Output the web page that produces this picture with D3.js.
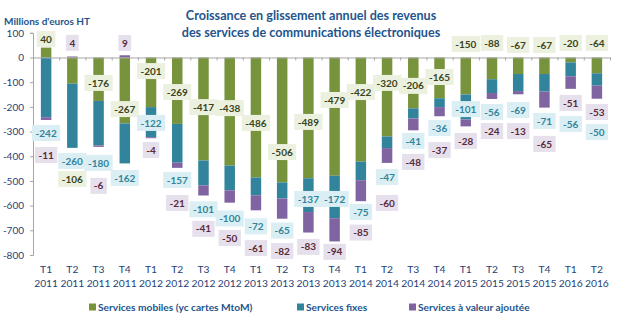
<!DOCTYPE html>
<html>
<head>
<meta charset="utf-8">
<script src="https://cdn.jsdelivr.net/npm/d3@7"></script>
<style>
  body { margin: 0; background: #fff; }
  svg { display: block; font-family: Lato, "Open Sans", sans-serif; }
</style>
</head>
<body>
<div id="chart"></div>
<script>
// Quarter / year pairs along the x axis
const quarters = ["T1", "T2", "T3", "T4", "T1", "T2", "T3", "T4", "T1", "T2", "T3",
  "T4", "T1", "T2", "T3", "T4", "T1", "T2", "T3", "T4", "T1", "T2"];
const years = ["2011", "2011", "2011", "2011", "2012", "2012", "2012", "2012", "2013", "2013", "2013",
  "2013", "2014", "2014", "2014", "2014", "2015", "2015", "2015", "2015", "2016", "2016"];

// Year-on-year change, millions of euros excl. VAT
const mobile = [40, -106, -176, -267, -201, -269, -417, -438, -486, -506, -489,
  -479, -422, -320, -206, -165, -150, -88, -67, -67, -20, -64];
const fixes = [-242, -260, -180, -162, -122, -157, -101, -100, -72, -65, -137,
  -172, -75, -47, -41, -36, -101, -56, -69, -71, -56, -50];
const valeurAjoutee = [-11, 4, -6, 9, -4, -21, -41, -50, -61, -82, -83,
  -94, -85, -60, -48, -37, -28, -24, -13, -65, -51, -53];

const yTicks = [-800, -700, -600, -500, -400, -300, -200, -100, 0, 100];

// Hand-placed label boxes, as a level on the value axis
const mobileLabelAt = [75, -492, -103, -209, -55, -140, -201, -205, -265, -383, -261,
  -172, -140, -103, -115, -79, 55, 59, 51, 51, 59, 59];
const fixesLabelAt = [-306, -419, -427, -488, -265, -496, -615, -652, -684, -701, -573,
  -573, -626, -484, -338, -286, -209, -221, -213, -257, -269, -302];
const vaLabelAt = [-395, 59, -520, 59, -375, -589, -694, -731, -772, -784, -767,
  -787, -709, -589, -423, -375, -338, -298, -298, -350, -184, -221];

const series = [
  { key: "mobile", name: "Services mobiles (yc cartes MtoM)", values: mobile, labelAt: mobileLabelAt,
    fill: "#77933c", boxFill: "#ebf1de", textFill: "#3a4420", legendX: 89 },
  { key: "fixes", name: "Services fixes", values: fixes, labelAt: fixesLabelAt,
    fill: "#31849b", boxFill: "#daeef3", textFill: "#31849b", legendX: 297 },
  { key: "va", name: "Services à valeur ajoutée", values: valeurAjoutee, labelAt: vaLabelAt,
    fill: "#8064a2", boxFill: "#e5e0ec", textFill: "#5a2a3a", legendX: 409 }
];

const width = 621, height = 323;
const plot = { left: 33, right: 610, top: 32.8, bottom: 255 };
const navy = "#1f3f77";
const titleBlue = "#24558c";
const axisGrey = "#a6a6a6";

const rows = quarters.map((q, i) => {
  const r = { i };
  series.forEach(s => { r[s.key] = s.values[i]; });
  return r;
});

const stacked = d3.stack()
  .keys(series.map(s => s.key))
  .offset(d3.stackOffsetDiverging)(rows);

const x = d3.scaleBand()
  .domain(d3.range(quarters.length))
  .range([plot.left, plot.right])
  .paddingInner(0.6)
  .paddingOuter(0.3);

const xEdge = d3.scaleLinear()
  .domain([0, quarters.length])
  .range([plot.left, plot.right]);

const y = d3.scaleLinear()
  .domain([-800, 100])
  .range([plot.bottom, plot.top]);

const svg = d3.select("#chart")
  .append("svg")
  .attr("width", width)
  .attr("height", height);

// Title
svg.append("text")
  .attr("x", 311)
  .attr("y", 19.5)
  .attr("text-anchor", "middle")
  .attr("font-size", "12.6px")
  .attr("font-weight", "bold")
  .attr("fill", titleBlue)
  .selectAll("tspan")
  .data(["Croissance en glissement annuel des revenus",
    "des services de communications électroniques"])
  .join("tspan")
  .attr("x", 311)
  .attr("dy", (d, i) => (i === 0 ? 0 : 17))
  .text(d => d);

svg.append("text")
  .attr("x", 4)
  .attr("y", 25)
  .attr("font-size", "10px")
  .attr("font-weight", "bold")
  .attr("fill", titleBlue)
  .text("Millions d'euros HT");

// Y axis
const yAxis = svg.append("g")
  .attr("transform", `translate(${plot.left},0)`)
  .call(d3.axisLeft(y).tickValues(yTicks).tickSize(3).tickPadding(6).tickFormat(d => String(d)));
yAxis.select(".domain").attr("stroke", axisGrey);
yAxis.selectAll(".tick line").attr("stroke", axisGrey);
yAxis.selectAll(".tick text")
  .attr("fill", navy)
  .attr("font-size", "10px")
  .attr("font-family", "Lato, sans-serif");

// Bars
svg.append("g")
  .selectAll("g")
  .data(stacked)
  .join("g")
  .attr("fill", (d, i) => series[i].fill)
  .selectAll("rect")
  .data(d => d)
  .join("rect")
  .attr("x", d => x(d.data.i))
  .attr("width", x.bandwidth())
  .attr("y", d => y(Math.max(d[0], d[1])))
  .attr("height", d => Math.abs(y(d[0]) - y(d[1])));

// Zero line with category boundary ticks
const zeroAxis = svg.append("g")
  .attr("transform", `translate(0,${y(0)})`)
  .call(d3.axisBottom(xEdge).tickValues(d3.range(quarters.length + 1)).tickSize(3).tickSizeOuter(0).tickFormat(""));
zeroAxis.select(".domain").attr("stroke", axisGrey);
zeroAxis.selectAll(".tick line").attr("stroke", axisGrey);

// Category labels, quarter over year
const xAxis = svg.append("g")
  .attr("transform", `translate(0,${plot.bottom})`)
  .call(d3.axisBottom(x).tickSize(0).tickPadding(0).tickFormat(""));
xAxis.select(".domain").remove();
xAxis.selectAll(".tick text")
  .attr("fill", navy)
  .attr("font-size", "10.3px")
  .attr("font-family", "Lato, sans-serif")
  .attr("y", 0)
  .attr("dy", null)
  .selectAll("tspan")
  .data(i => [quarters[i], years[i]])
  .join("tspan")
  .attr("x", 0)
  .attr("y", (d, k) => 17.5 + k * 14)
  .text(d => d);

// Value labels in tinted boxes
const labelGroups = svg.append("g")
  .selectAll("g")
  .data(series)
  .join("g");

labelGroups.each(function (s) {
  const g = d3.select(this)
    .selectAll("g")
    .data(s.values.map((v, i) => ({ v, i, at: s.labelAt[i] })))
    .join("g")
    .attr("transform", d => `translate(${x(d.i) + x.bandwidth() / 2},${y(d.at)})`);

  g.append("rect").attr("fill", s.boxFill);
  const texts = g.append("text")
    .attr("text-anchor", "middle")
    .attr("dy", "0.36em")
    .attr("font-size", "10px")
    .attr("font-weight", "bold")
    .attr("fill", s.textFill)
    .text(d => String(d.v));

  texts.each(function () {
    const w = this.getComputedTextLength() + 7;
    d3.select(this.previousSibling)
      .attr("x", -w / 2)
      .attr("y", -8)
      .attr("width", w)
      .attr("height", 16);
  });
});

// Legend
const legend = svg.append("g")
  .attr("transform", "translate(0,307)")
  .selectAll("g")
  .data(series)
  .join("g")
  .attr("transform", d => `translate(${d.legendX},0)`);

legend.append("rect")
  .attr("x", 0)
  .attr("y", -3.5)
  .attr("width", 7)
  .attr("height", 7)
  .attr("fill", d => d.fill);

legend.append("text")
  .attr("x", 9)
  .attr("dy", "0.35em")
  .attr("font-size", "10.2px")
  .attr("font-weight", "bold")
  .attr("fill", titleBlue)
  .text(d => d.name);
</script>
</body>
</html>
